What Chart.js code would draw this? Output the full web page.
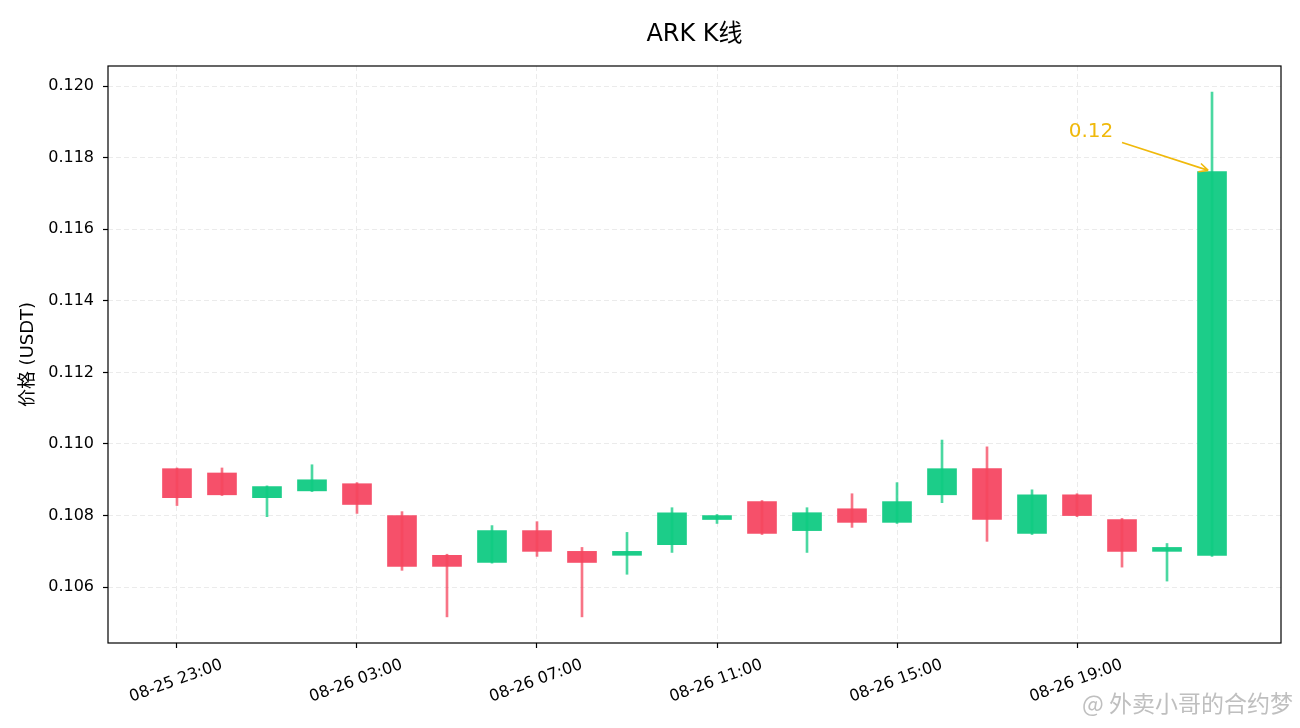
<!DOCTYPE html>
<html>
<head>
<meta charset="utf-8">
<title>ARK K线</title>
<script src="https://cdn.jsdelivr.net/npm/chart.js@4/dist/chart.umd.min.js"></script>
<style>
  html, body { margin: 0; padding: 0; background: #fff; }
  #wrap { width: 1300px; height: 728px; }
</style>
</head>
<body>
<div id="wrap"><canvas id="klineChart" width="1300" height="728"></canvas></div>
<script>
// hourly candles
const times = [
  '08-25 23:00', '08-26 00:00', '08-26 01:00', '08-26 02:00', '08-26 03:00', '08-26 04:00',
  '08-26 05:00', '08-26 06:00', '08-26 07:00', '08-26 08:00', '08-26 09:00', '08-26 10:00',
  '08-26 11:00', '08-26 12:00', '08-26 13:00', '08-26 14:00', '08-26 15:00', '08-26 16:00',
  '08-26 17:00', '08-26 18:00', '08-26 19:00', '08-26 20:00', '08-26 21:00', '08-26 22:00'
];
const openP  = [0.10931, 0.10919, 0.10850, 0.10869, 0.10889, 0.10800, 0.10689, 0.10669, 0.10758, 0.10700, 0.10689, 0.10719,
                0.10789, 0.10839, 0.10758, 0.10819, 0.10781, 0.10858, 0.10931, 0.10750, 0.10858, 0.10789, 0.10700, 0.10689];
const highP  = [0.10933, 0.10933, 0.10883, 0.10942, 0.10892, 0.10811, 0.10692, 0.10772, 0.10783, 0.10711, 0.10753, 0.10822,
                0.10803, 0.10842, 0.10822, 0.10861, 0.10892, 0.11011, 0.10992, 0.10872, 0.10861, 0.10792, 0.10722, 0.11983];
const lowP   = [0.10828, 0.10856, 0.10797, 0.10867, 0.10806, 0.10647, 0.10517, 0.10667, 0.10686, 0.10517, 0.10636, 0.10697,
                0.10778, 0.10747, 0.10697, 0.10767, 0.10778, 0.10836, 0.10728, 0.10747, 0.10797, 0.10656, 0.10617, 0.10686];
const closeP = [0.10850, 0.10858, 0.10881, 0.10900, 0.10831, 0.10658, 0.10658, 0.10758, 0.10700, 0.10669, 0.10700, 0.10808,
                0.10800, 0.10750, 0.10808, 0.10781, 0.10839, 0.10931, 0.10789, 0.10858, 0.10800, 0.10700, 0.10711, 0.11761];
const xTickIdx = [0, 4, 8, 12, 16, 20];
const yTicks = [0.106, 0.108, 0.110, 0.112, 0.114, 0.116, 0.118, 0.120];

const UP = '#1ccd89', DOWN = '#f6506a';
const UP_WICK = 'rgba(14,203,129,0.75)', DOWN_WICK = 'rgba(246,70,93,0.75)';
const FONT = "'DejaVu Sans', 'Noto Sans CJK SC', sans-serif";

const isUp = openP.map((o, i) => closeP[i] >= o);

// frame around plot area + watermark
const framePlugin = {
  id: 'frame',
  afterDraw(chart) {
    const { ctx, chartArea: a } = chart;
    ctx.save();
    ctx.strokeStyle = '#000';
    ctx.lineWidth = 1.2;
    ctx.strokeRect(a.left, a.top, a.right - a.left, a.bottom - a.top);
    ctx.font = "23px 'Noto Sans CJK SC', sans-serif";
    ctx.fillStyle = 'rgba(170,170,170,0.75)';
    ctx.textAlign = 'right';
    ctx.textBaseline = 'middle';
    ctx.fillText('@ 外卖小哥的合约梦', 1293, 703);
    ctx.restore();
  }
};

// label + arrow on last close
const lastLabelPlugin = {
  id: 'lastLabel',
  afterDatasetsDraw(chart) {
    const { ctx, scales } = chart;
    const i = closeP.length - 1;
    const px = scales.x.getPixelForValue(i);
    const py = scales.y.getPixelForValue(closeP[i]);
    const tx = px - 121, ty = py - 40;
    const sx = tx + 31, sy = ty + 11;
    const dx = px - sx, dy = py - sy;
    const len = Math.hypot(dx, dy);
    const ux = dx / len, uy = dy / len;
    const ex = px - ux * 4, ey = py - uy * 4;
    ctx.save();
    ctx.strokeStyle = '#f0b90b';
    ctx.fillStyle = '#f0b90b';
    ctx.lineWidth = 1.6;
    ctx.beginPath();
    ctx.moveTo(sx, sy);
    ctx.lineTo(ex, ey);
    const ang = Math.atan2(uy, ux);
    for (const s of [-1, 1]) {
      const a = ang + Math.PI + s * 0.45;
      ctx.moveTo(ex, ey);
      ctx.lineTo(ex + Math.cos(a) * 10, ey + Math.sin(a) * 10);
    }
    ctx.stroke();
    ctx.font = '20px ' + FONT;
    ctx.textAlign = 'center';
    ctx.textBaseline = 'middle';
    ctx.fillText(closeP[i].toFixed(2), tx, ty);
    ctx.restore();
  }
};

new Chart(document.getElementById('klineChart'), {
  type: 'bar',
  data: {
    datasets: [
      {
        label: 'wick',
        data: times.map((t, i) => ({ x: i, y: [lowP[i], highP[i]] })),
        backgroundColor: isUp.map(u => u ? UP_WICK : DOWN_WICK),
        barThickness: 2,
        grouped: false,
        order: 0
      },
      {
        label: 'body',
        data: times.map((t, i) => ({ x: i, y: [openP[i], closeP[i]] })),
        backgroundColor: isUp.map(u => u ? UP : DOWN),
        barThickness: 29,
        grouped: false,
        order: 1
      }
    ]
  },
  options: {
    responsive: false,
    devicePixelRatio: 1,
    animation: false,
    layout: { padding: { right: 19 } },
    plugins: {
      legend: { display: false },
      tooltip: { enabled: false },
      title: {
        display: true,
        text: 'ARK K线',
        fullSize: false,
        color: '#000',
        font: { family: FONT, size: 24, weight: 'normal' },
        padding: { top: 20, bottom: 17.2 }
      }
    },
    scales: {
      x: {
        type: 'linear',
        offset: false,
        min: -1.533,
        max: 24.533,
        afterBuildTicks(scale) { scale.ticks = xTickIdx.map(v => ({ value: v })); },
        afterFit(scale) { scale.height = 85; },
        ticks: {
          autoSkip: false,
          minRotation: 20,
          maxRotation: 20,
          labelOffset: 45,
          padding: 7.4,
          color: '#000',
          font: { family: FONT, size: 16 },
          callback: v => times[v]
        },
        grid: {
          offset: false,
          color: '#ebebeb',
          lineWidth: 1,
          tickLength: 5,
          tickColor: '#000',
          tickWidth: 1.2,
          tickBorderDash: []
        },
        border: { display: false, dash: [5, 3] }
      },
      y: {
        type: 'linear',
        min: 0.10444,
        max: 0.12056,
        afterBuildTicks(scale) { scale.ticks = yTicks.map(v => ({ value: v })); },
        afterFit(scale) { scale.width = 108; },
        ticks: {
          padding: 9,
          color: '#000',
          font: { family: FONT, size: 16 },
          callback: v => v.toFixed(3)
        },
        grid: {
          color: '#ebebeb',
          lineWidth: 1,
          tickLength: 5,
          tickColor: '#000',
          tickWidth: 1.2,
          tickBorderDash: []
        },
        border: { display: false, dash: [5, 3] },
        title: {
          display: true,
          text: '价格 (USDT)',
          color: '#000',
          font: { family: FONT, size: 18 },
          padding: { top: 17.7, bottom: 0 }
        }
      }
    }
  },
  plugins: [framePlugin, lastLabelPlugin]
});
</script>
</body>
</html>
